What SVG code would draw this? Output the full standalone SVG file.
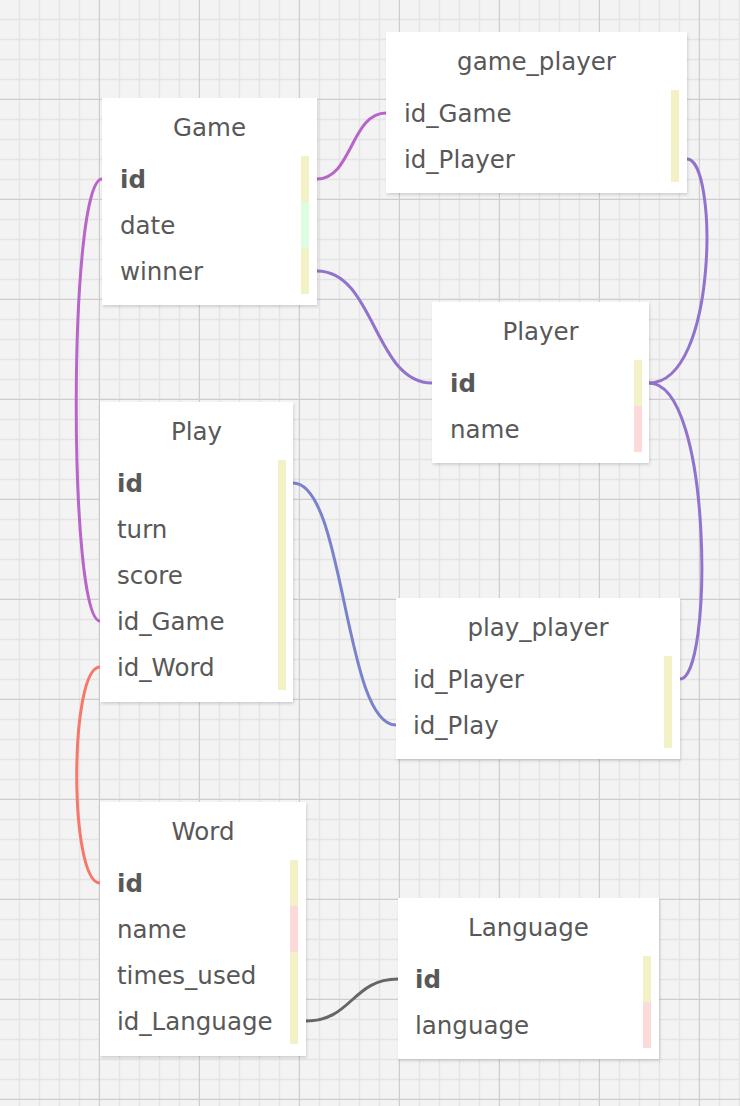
<svg xmlns="http://www.w3.org/2000/svg" width="740" height="1106" viewBox="0 0 740 1106">
<defs>
<pattern id="grid" width="100" height="100" patternUnits="userSpaceOnUse">
<rect width="100" height="100" fill="#f3f3f3"/>
<path d="M19.5 0V100M39.5 0V100M59.5 0V100M79.5 0V100M0 19.5H100M0 39.5H100M0 59.5H100M0 79.5H100" stroke="#e4e4e4" stroke-width="1.3" fill="none"/>
<path d="M99.5 0V100M0 99.5H100" stroke="#cdcdcd" stroke-width="1.4" fill="none"/>
</pattern>
<filter id="sh" x="-10%" y="-10%" width="125%" height="125%">
<feDropShadow dx="1" dy="2" stdDeviation="1.5" flood-color="#000" flood-opacity="0.14"/>
</filter>
</defs>
<style>
.box{fill:#fff;filter:url(#sh)}
text{font-family:"DejaVu Sans","Verdana",sans-serif;font-size:24.5px;fill:#585858}
.t{text-anchor:middle}
.k{font-weight:bold}
.y{fill:#f3f1c6}
.g{fill:#dcfde0}
.p{fill:#fddada}
.c{fill:none;stroke-width:3;stroke-linecap:round}
.m{stroke:#b865c9}
.v{stroke:#9172cc}
.b{stroke:#7a82cc}
.s{stroke:#f6776c}
.d{stroke:#666}
</style>
<rect width="740" height="1106" fill="url(#grid)"/>
<g id="connectors">
<path class="c m" d="M102 179C68 179 68 621 100 621"/>
<path class="c m" d="M317 179C352 179 351 113 386 113"/>
<path class="c v" d="M317 271C375 271 374 383 432 383"/>
<path class="c v" d="M687 159C718 159 718 383 649 383"/>
<path class="c v" d="M649 383C713 383 713 679 680 679"/>
<path class="c b" d="M293 483C345 483 344 725 396 725"/>
<path class="c s" d="M100 667C69 667 69 883 100 883"/>
<path class="c d" d="M306 1021C352 1021 352 979 398 979"/>
</g>
<g id="Game">
<rect class="box" x="102" y="98" width="215" height="207"/>
<text class="t" x="209.5" y="136">Game</text>
<rect class="y" x="301" y="156" width="8" height="46"/>
<rect class="g" x="301" y="202" width="8" height="46"/>
<rect class="y" x="301" y="248" width="8" height="46"/>
<text class="k" x="120" y="188">id</text>
<text x="120" y="234">date</text>
<text x="120" y="280">winner</text>
</g>
<g id="game_player">
<rect class="box" x="386" y="32" width="301" height="161"/>
<text class="t" x="536.5" y="70">game_player</text>
<rect class="y" x="671" y="90" width="8" height="92"/>
<text x="404" y="122">id_Game</text>
<text x="404" y="168">id_Player</text>
</g>
<g id="Player">
<rect class="box" x="432" y="302" width="217" height="161"/>
<text class="t" x="540.5" y="340">Player</text>
<rect class="y" x="634" y="360" width="8" height="46"/>
<rect class="p" x="634" y="406" width="8" height="46"/>
<text class="k" x="450" y="392">id</text>
<text x="450" y="438">name</text>
</g>
<g id="Play">
<rect class="box" x="100" y="402" width="193" height="300"/>
<text class="t" x="196.5" y="440">Play</text>
<rect class="y" x="278" y="460" width="8" height="230"/>
<text class="k" x="117" y="492">id</text>
<text x="117" y="538">turn</text>
<text x="117" y="584">score</text>
<text x="117" y="630">id_Game</text>
<text x="117" y="676">id_Word</text>
</g>
<g id="play_player">
<rect class="box" x="396" y="598" width="284" height="161"/>
<text class="t" x="538" y="636">play_player</text>
<rect class="y" x="664" y="656" width="8" height="92"/>
<text x="413" y="688">id_Player</text>
<text x="413" y="734">id_Play</text>
</g>
<g id="Word">
<rect class="box" x="100" y="802" width="206" height="254"/>
<text class="t" x="203" y="840">Word</text>
<rect class="y" x="290" y="860" width="8" height="46"/>
<rect class="p" x="290" y="906" width="8" height="46"/>
<rect class="y" x="290" y="952" width="8" height="92"/>
<text class="k" x="117" y="892">id</text>
<text x="117" y="938">name</text>
<text x="117" y="984">times_used</text>
<text x="117" y="1030">id_Language</text>
</g>
<g id="Language">
<rect class="box" x="398" y="898" width="261" height="161"/>
<text class="t" x="528.5" y="936">Language</text>
<rect class="y" x="643" y="956" width="8" height="46"/>
<rect class="p" x="643" y="1002" width="8" height="46"/>
<text class="k" x="415" y="988">id</text>
<text x="415" y="1034">language</text>
</g>
</svg>
